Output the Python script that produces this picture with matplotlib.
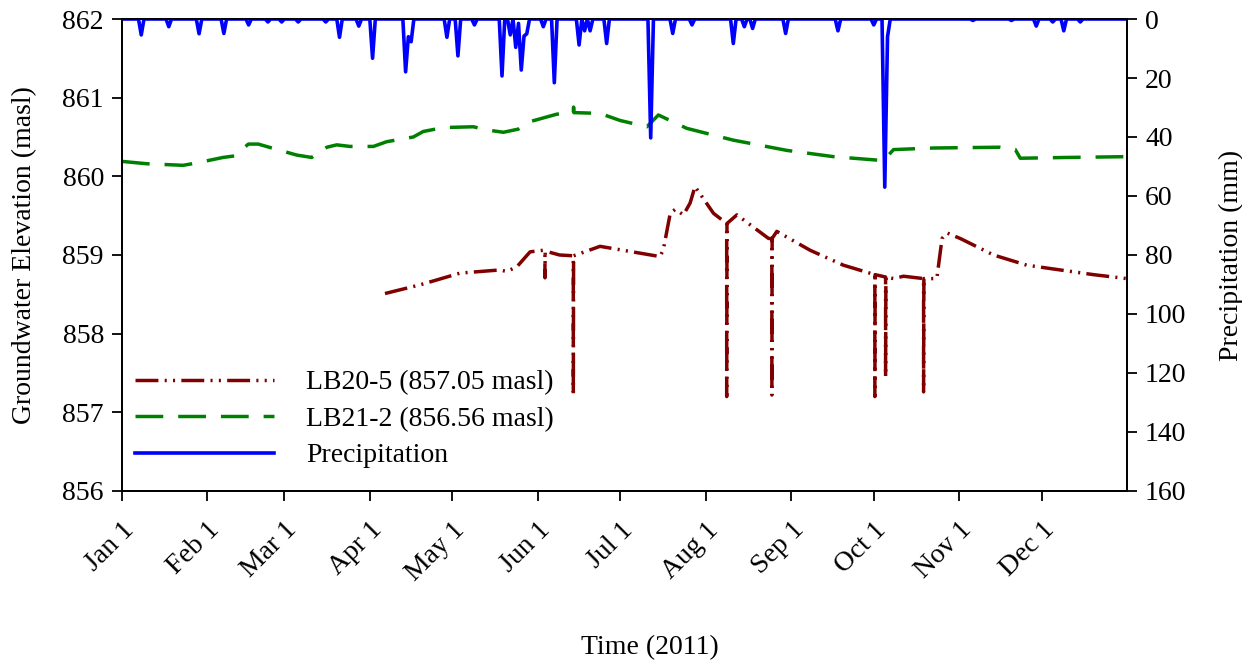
import numpy as np
import pandas as pd
import matplotlib.dates as mdates
from matplotlib import pyplot as plt

plt.rcParams['font.family'] = ['Liberation Serif', 'DejaVu Serif']
plt.rcParams['font.size'] = 20

start = pd.Timestamp('2011-01-01')

# LB21-2 (green), day of year offset vs elevation (masl)
lb21_days = [0, 9.0, 22.2, 27.1, 36.7, 41.0, 45.9, 49.5, 54.4, 63.5, 68.9, 74.4, 78.0,
             82.8, 91.3, 96.1, 105.8, 109.4, 116.7, 127.6, 132.5, 138.5, 143.9, 147.6,
             157.9, 163.9, 164.0, 164.1, 173.6, 180.9, 190.6, 194.8, 205.1, 222.0, 241.4,
             258.4, 276.5, 280.2, 294.7, 318.9, 324.4, 326.2, 343.2, 364.8]
lb21_elev = [860.19, 860.16, 860.14, 860.17, 860.24, 860.26, 860.41, 860.41, 860.36,
             860.27, 860.24, 860.37, 860.40, 860.38, 860.38, 860.44, 860.50, 860.57,
             860.62, 860.63, 860.59, 860.56, 860.60, 860.69, 860.79, 860.81, 860.88,
             860.81, 860.80, 860.71, 860.63, 860.78, 860.61, 860.46, 860.33, 860.25,
             860.20, 860.34, 860.36, 860.37, 860.34, 860.23, 860.24, 860.25]

# LB20-5 (dark red), includes the short sampling drops
lb20_days = [95.5, 108.2, 122.8, 137.3, 139.7, 143.4, 148.2, 153.0, 153.6, 153.6, 153.7,
             158.9, 163.9, 163.9, 164.0, 173.6, 187.0, 195.4, 196.6, 199.1, 200.9, 203.9,
             206.3, 208.1, 214.8, 219.6, 219.6, 219.7, 223.3, 234.8, 236.0, 236.0, 236.1,
             237.8, 249.9, 262.0, 273.4, 273.4, 273.5, 277.3, 277.3, 277.4, 280.2, 283.8,
             291.1, 291.1, 291.2, 295.9, 297.8, 299.6, 304.4, 316.5, 328.6, 352.8, 364.9]
lb20_elev = [858.51, 858.62, 858.77, 858.81, 858.79, 858.85, 859.04, 859.06, 859.05,
             858.71, 859.05, 859.00, 858.99, 857.21, 858.99, 859.11, 859.03, 858.98,
             859.07, 859.53, 859.58, 859.51, 859.66, 859.87, 859.53, 859.40, 857.20,
             859.40, 859.51, 859.21, 859.21, 857.22, 859.21, 859.30, 859.06, 858.87,
             858.75, 857.20, 858.75, 858.72, 857.45, 858.72, 858.70, 858.73, 858.70,
             857.26, 858.70, 858.70, 859.21, 859.28, 859.21, 859.00, 858.87, 858.75,
             858.70]

# daily precipitation (mm), only rainy days listed
rain_days = [7, 17, 28, 37, 46, 53, 58, 64, 74, 79, 86, 91, 103, 104, 105, 118, 122, 128,
             138, 141, 143, 144, 145, 146, 147, 153, 157, 166, 168, 170, 176, 192, 200,
             207, 222, 226, 229, 241, 260, 273, 277, 278, 309, 323, 332, 338, 342, 348]
rain_mm = [5.4, 2.6, 5.0, 4.9, 2.0, 1.0, 1.0, 1.0, 1.0, 6.2, 2.4, 13.3, 17.9, 6.0, 7.7,
           6.2, 12.5, 2.0, 19.3, 5.4, 9.6, 1.5, 17.3, 5.8, 5.0, 2.6, 21.6, 8.8, 4.0, 4.0,
           8.3, 40.3, 4.9, 2.0, 8.3, 2.6, 3.2, 4.9, 4.0, 2.0, 57.0, 6.0, 0.5, 0.5, 2.4,
           1.0, 4.0, 1.0]

precip = np.zeros(365)
precip[rain_days] = rain_mm
precip_dates = start + pd.to_timedelta(np.arange(365), 'D')
lb21_dates = start + pd.to_timedelta(lb21_days, 'D')
lb20_dates = start + pd.to_timedelta(lb20_days, 'D')

fig = plt.figure(figsize=(12.42, 6.6), dpi=100)
ax = fig.add_axes([0.0982, 0.2561, 0.8092, 0.7151])
ax2 = ax.twinx()

l1, = ax.plot(lb20_dates, lb20_elev, color='#800000', lw=2.5,
              linestyle=(0, (6.6, 1.8, 0.6, 1.8, 0.6, 1.8)),
              label='LB20-5 (857.05 masl)')
l2, = ax.plot(lb21_dates, lb21_elev, color='#008000', lw=2.5,
              linestyle=(0, (8, 4.3)), label='LB21-2 (856.56 masl)')
l3, = ax2.plot(precip_dates, precip, color='#0000ff', lw=2.6, label='Precipitation')

ax.set_xlim(start, pd.Timestamp('2011-12-31 23:00'))
ax.set_ylim(856, 862)
ax.set_yticks(range(856, 863))
ax2.set_ylim(160, 0)
ax2.set_yticks(range(0, 161, 20))

ax.xaxis.set_major_locator(mdates.MonthLocator())
ax.xaxis.set_major_formatter(mdates.DateFormatter('%b 1'))
for lab in ax.get_xticklabels():
    lab.set_rotation(45)
    lab.set_ha('right')
    lab.set_rotation_mode('anchor')

for a in (ax, ax2):
    a.tick_params(direction='out', length=7, width=1.3, pad=6)
    for s in a.spines.values():
        s.set_linewidth(1.3)
ax.tick_params(axis='x', pad=12)

fig.text(650 / 1242, 1 - 648 / 660, 'Time (2011)', ha='center', va='center')
fig.text(25 / 1242, 1 - 255 / 660, 'Groundwater Elevation (masl)',
         ha='center', va='center', rotation=90)
fig.text(1231 / 1242, 1 - 255 / 660, 'Precipitation (mm)',
         ha='center', va='center', rotation=90)

ax2.legend(handles=[l1, l2, l3], loc='lower left', bbox_to_anchor=(-0.012, -0.005),
           frameon=False, handlelength=5.0, handletextpad=1.15, labelspacing=0.4)

fig.savefig('out.png', dpi=100)
